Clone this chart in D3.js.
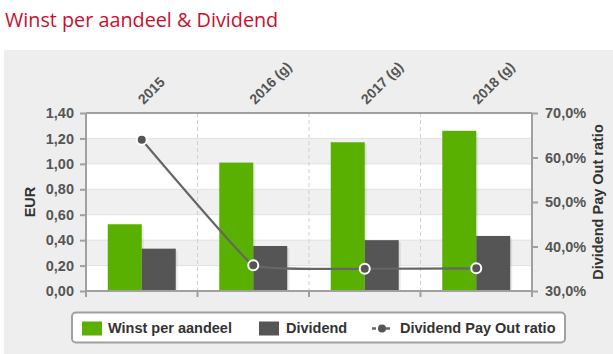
<!DOCTYPE html>
<html><head><meta charset="utf-8">
<script src="https://cdn.jsdelivr.net/npm/d3@7/dist/d3.min.js"></script>
<style>body{margin:0;background:#fff;}svg{display:block;}</style>
</head><body><svg id="c" width="613" height="354"></svg>
<script>
const categories = ["2015", "2016 (g)", "2017 (g)", "2018 (g)"];
const eps = [0.525, 1.01, 1.17, 1.26];
const dividend = [0.333, 0.354, 0.40, 0.433];
const payout = [64.0, 35.8, 35.0, 35.1];
const leftTicks = [0, 0.2, 0.4, 0.6, 0.8, 1.0, 1.2, 1.4];
const rightTicks = [30, 40, 50, 60, 70];
const seriesNames = ["Winst per aandeel", "Dividend", "Dividend Pay Out ratio"];
const title = "Winst per aandeel & Dividend";

const svg = d3.select("#c");
const L = 86, R = 532, T = 113, B = 291;
const font = "'Liberation Sans', Arial, sans-serif";
const txt = "#555";

svg.append("text").attr("x", 5).attr("y", 27).text(title)
  .attr("font-family", "'Open Sans', sans-serif").attr("font-size", 19.8).attr("fill", "#c8102e");

svg.append("rect").attr("x", 4).attr("y", 50).attr("width", 609).attr("height", 304).attr("fill", "#eeeeee");

const x = d3.scaleBand().domain(categories).range([L, R]);
const y = d3.scaleLinear().domain([0, 1.4]).range([B, T]);
const y2 = d3.scaleLinear().domain([30, 70]).range([B, T]);

// plot bands
const bands = d3.range(leftTicks.length - 1);
svg.append("g").selectAll("rect").data(bands).join("rect")
  .attr("x", L).attr("width", R - L)
  .attr("y", i => y(leftTicks[i + 1])).attr("height", i => y(leftTicks[i]) - y(leftTicks[i + 1]))
  .attr("fill", i => (i % 2 === 1) ? "#f0f0f0" : "#ffffff");
svg.append("g").selectAll("line").data(leftTicks.slice(1, -1)).join("line")
  .attr("x1", L).attr("x2", R).attr("y1", d => y(d)).attr("y2", d => y(d))
  .attr("stroke", "#e2e2e2").attr("stroke-width", 1);

// vertical dashed lines
svg.append("g").selectAll("line").data(categories.slice(1)).join("line")
  .attr("x1", d => x(d)).attr("x2", d => x(d)).attr("y1", T).attr("y2", B)
  .attr("stroke", "#d0d0d0").attr("stroke-dasharray", "4,3").attr("stroke-width", 1);

// bars
const x1 = d3.scaleBand().domain([0, 1]).range([0, 68]);
const bw = 34;
const off = d => x(d) + x.bandwidth() / 2 - 34;
const g = svg.append("g");
g.selectAll(".shadow").data(categories).join("g").each(function(d, i) {
  const s = d3.select(this);
  [[eps[i], 0], [dividend[i], 1]].forEach(([v, k]) => {
    s.append("rect").attr("x", off(d) + x1(k) + 2).attr("y", y(v) + 2).attr("width", bw).attr("height", B - y(v) - 2)
      .attr("fill", "#000").attr("opacity", 0.08);
  });
});
g.selectAll(".eps").data(categories).join("rect")
  .attr("x", d => off(d) + x1(0)).attr("width", bw)
  .attr("y", (d, i) => y(eps[i])).attr("height", (d, i) => B - y(eps[i])).attr("fill", "#5ab000");
g.selectAll(".div").data(categories).join("rect")
  .attr("x", d => off(d) + x1(1)).attr("width", bw)
  .attr("y", (d, i) => y(dividend[i])).attr("height", (d, i) => B - y(dividend[i])).attr("fill", "#555555");

// axes frame
const axC = "#a0a0a0";
svg.append("line").attr("x1", L).attr("x2", R).attr("y1", T).attr("y2", T).attr("stroke", axC).attr("stroke-width", 2);
svg.append("line").attr("x1", L).attr("x2", R).attr("y1", B).attr("y2", B).attr("stroke", axC).attr("stroke-width", 2);
svg.append("line").attr("x1", L).attr("x2", L).attr("y1", T).attr("y2", B + 6).attr("stroke", axC).attr("stroke-width", 2);
svg.append("line").attr("x1", R).attr("x2", R).attr("y1", T).attr("y2", B + 6).attr("stroke", axC).attr("stroke-width", 2);

// left axis
const la = svg.append("g").attr("transform", `translate(${L},0)`)
  .call(d3.axisLeft(y).tickValues(leftTicks).tickSize(6).tickPadding(6)
    .tickFormat(d => d3.format(".2f")(d).replace(".", ",")));
la.select(".domain").remove();
la.selectAll("line").attr("stroke", axC).attr("stroke-width", 2);
la.selectAll("text").attr("font-family", font).attr("font-weight", "bold").attr("font-size", 14.5).attr("fill", txt);

// right axis
const ra = svg.append("g").attr("transform", `translate(${R},0)`)
  .call(d3.axisRight(y2).tickValues(rightTicks).tickSize(6).tickPadding(7)
    .tickFormat(d => d3.format(".1f")(d).replace(".", ",") + "%"));
ra.select(".domain").remove();
ra.selectAll("line").attr("stroke", axC).attr("stroke-width", 2);
ra.selectAll("text").attr("font-family", font).attr("font-weight", "bold").attr("font-size", 14.5).attr("fill", txt);

// bottom ticks at boundaries
svg.append("g").selectAll("line").data(categories.slice(1)).join("line")
  .attr("x1", d => x(d)).attr("x2", d => x(d)).attr("y1", B).attr("y2", B + 6)
  .attr("stroke", axC).attr("stroke-width", 2);

// category labels
svg.append("g").selectAll("text").data(categories).join("text")
  .attr("transform", d => `translate(${x(d) + x.bandwidth() / 2 + 2},${T - 8}) rotate(-45)`)
  .attr("font-family", font).attr("font-weight", "bold").attr("font-size", 14).attr("fill", txt)
  .text(d => d);

// axis titles
svg.append("text").attr("transform", `translate(35,${(T + B) / 2}) rotate(-90)`).attr("text-anchor", "middle")
  .attr("font-family", font).attr("font-weight", "bold").attr("font-size", 14.5).attr("fill", "#333").text("EUR");
svg.append("text").attr("transform", `translate(603,${(T + B) / 2}) rotate(-90)`).attr("text-anchor", "middle")
  .attr("font-family", font).attr("font-weight", "bold").attr("font-size", 14.5).attr("fill", "#333").text(seriesNames[2]);

// line
const pts = categories.map((c, i) => [x(c) + x.bandwidth() / 2, y2(payout[i])]);
svg.append("path").attr("d", d3.line().curve(d3.curveCardinal.tension(0.75))(pts))
  .attr("fill", "none").attr("stroke", "#666").attr("stroke-width", 2.2);
svg.append("g").selectAll("circle").data(pts).join("circle")
  .attr("cx", d => d[0]).attr("cy", d => d[1]).attr("r", 5)
  .attr("fill", "#555").attr("stroke", "#fff").attr("stroke-width", 2);

// legend
svg.append("rect").attr("x", 72).attr("y", 312.5).attr("width", 493).attr("height", 30).attr("rx", 4)
  .attr("fill", "#fff").attr("stroke", "#a0a0a0").attr("stroke-width", 2);
const lg = svg.append("g").attr("font-family", font).attr("font-weight", "bold").attr("font-size", 14.5).attr("fill", "#333");
lg.append("rect").attr("x", 82).attr("y", 321.5).attr("width", 20).attr("height", 14).attr("fill", "#5ab000");
lg.append("text").attr("x", 108).attr("y", 333).text(seriesNames[0]);
lg.append("rect").attr("x", 259).attr("y", 321.5).attr("width", 20).attr("height", 14).attr("fill", "#555");
lg.append("text").attr("x", 286).attr("y", 333).text(seriesNames[1]);
lg.append("line").attr("x1", 372).attr("x2", 392).attr("y1", 328.5).attr("y2", 328.5)
  .attr("stroke", "#666").attr("stroke-width", 2.5).attr("stroke-dasharray", "4,3");
lg.append("circle").attr("cx", 382).attr("cy", 328.5).attr("r", 4).attr("fill", "#555");
lg.append("text").attr("x", 400).attr("y", 333).text(seriesNames[2]);
</script></body></html>
